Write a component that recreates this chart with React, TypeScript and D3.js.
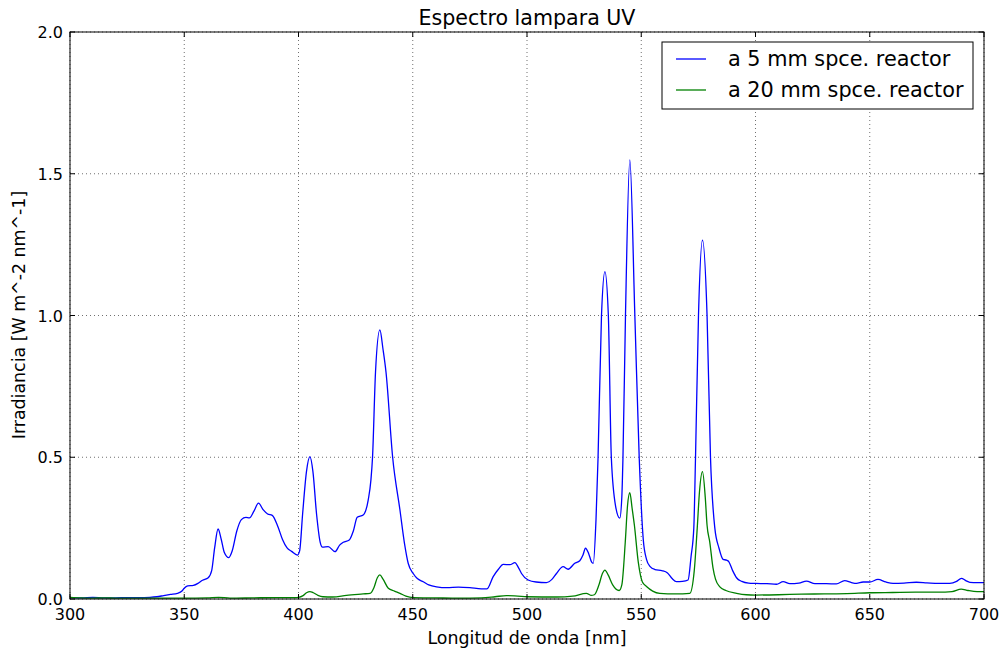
import React from "react";
import * as d3 from "d3";

const title = "Espectro lampara UV";
const xLabel = "Longitud de onda [nm]";
const yLabel = "Irradiancia [W m^-2 nm^-1]";
const xTicks = [300, 350, 400, 450, 500, 550, 600, 650, 700];
const yTicks = [0, 0.5, 1.0, 1.5, 2.0];
const seriesNames = ["a 5 mm spce. reactor", "a 20 mm spce. reactor"];
const seriesColors = ["#0000ff", "#008000"];

const blue: [number, number][] = [
  [300,0.005],[305,0.004],[310,0.006],[315,0.004],[320,0.004],[325,0.005],[330,0.005],[335,0.006],[338,0.008],[341,0.012],[344,0.016],[347,0.02],[349,0.028],[350,0.038],[351.5,0.046],[354,0.048],[356,0.055],[358,0.066],[360.5,0.075],[362,0.1],[363.3,0.18],[364.8,0.247],[366.2,0.21],[367.5,0.165],[369.5,0.146],[371,0.17],[373,0.24],[375,0.28],[377,0.288],[378.5,0.286],[380.5,0.31],[382.5,0.338],[384.5,0.315],[386.5,0.3],[388.5,0.295],[391,0.255],[393,0.21],[395,0.18],[397,0.168],[399.5,0.155],[400.5,0.17],[401.8,0.3],[403.5,0.45],[405,0.502],[406.3,0.45],[407.9,0.3],[409.5,0.2],[410.5,0.183],[413,0.185],[416,0.167],[418,0.19],[419.6,0.2],[422.2,0.208],[424,0.24],[425.7,0.288],[428.3,0.296],[430.5,0.349],[431.7,0.42],[432.4,0.5],[433.7,0.8],[435.6,0.949],[437,0.88],[438.3,0.8],[441.2,0.5],[444.4,0.314],[446.5,0.19],[448,0.126],[450.2,0.09],[452,0.072],[454.6,0.061],[457,0.05],[460.4,0.043],[465,0.04],[470,0.042],[475,0.04],[480,0.036],[482.5,0.036],[485.2,0.079],[487.5,0.105],[489.6,0.122],[492.5,0.121],[494.7,0.128],[496.3,0.11],[497.6,0.09],[500.5,0.067],[504,0.06],[508.5,0.058],[511,0.07],[512.9,0.09],[515.8,0.114],[518,0.105],[520.9,0.126],[523.1,0.135],[524.5,0.155],[525.6,0.179],[527,0.16],[528.3,0.13],[529,0.126],[530.2,0.28],[531.1,0.5],[532.6,1.0],[534.1,1.155],[535.6,1.0],[536.9,0.5],[538.8,0.326],[540.6,0.285],[541.5,0.36],[542,0.5],[543.1,1.0],[545,1.549],[547.2,1.0],[549.1,0.5],[550.9,0.208],[552.3,0.14],[553.8,0.115],[556,0.104],[559,0.1],[561.5,0.092],[563.5,0.072],[565.4,0.061],[568,0.062],[570.5,0.067],[571.8,0.15],[573,0.25],[573.75,0.5],[575.05,1.0],[576.8,1.266],[578.8,1.0],[580.3,0.5],[582.2,0.25],[584,0.18],[585.8,0.14],[587.3,0.137],[588.3,0.132],[590,0.1],[591.7,0.075],[594,0.062],[597,0.056],[600,0.055],[605,0.054],[609.2,0.052],[612.1,0.061],[615,0.054],[619,0.056],[622.3,0.063],[626,0.054],[631,0.054],[635.4,0.053],[639,0.065],[642,0.058],[644.2,0.055],[647.1,0.06],[650,0.06],[653.6,0.069],[657,0.06],[660.2,0.055],[665,0.056],[670.4,0.059],[675,0.057],[680,0.055],[685,0.055],[688,0.062],[690.1,0.073],[692,0.065],[693.8,0.059],[697,0.058],[700,0.058]
];

const green: [number, number][] = [
  [300,0.006],[305,0.004],[310,0.003],[315,0.004],[320,0.003],[330,0.003],[340,0.003],[350,0.003],[360,0.004],[365,0.006],[370,0.003],[380,0.004],[390,0.005],[398,0.005],[400,0.006],[402,0.012],[403.5,0.022],[405,0.026],[406.5,0.022],[408.5,0.013],[410.7,0.008],[415,0.007],[421,0.013],[428.3,0.018],[431.3,0.02],[433,0.04],[434.5,0.075],[435.6,0.085],[437,0.07],[439.3,0.038],[442,0.028],[444.4,0.02],[447,0.01],[450.2,0.005],[460,0.004],[470,0.003],[480,0.004],[486,0.008],[491,0.012],[496,0.01],[500,0.008],[513,0.007],[520,0.01],[526,0.02],[528,0.013],[529.5,0.015],[531.5,0.05],[533,0.09],[534.1,0.102],[535.5,0.085],[537.5,0.05],[540.3,0.03],[541.5,0.05],[543,0.2],[544,0.33],[545,0.375],[546,0.32],[547,0.26],[548.7,0.13],[550.5,0.06],[552.3,0.044],[555,0.028],[558.1,0.02],[565,0.018],[571.25,0.02],[573.2,0.1],[574.5,0.25],[575.5,0.38],[576.8,0.449],[578,0.36],[578.8,0.26],[580,0.2],[581.4,0.11],[582.5,0.07],[584.4,0.043],[587,0.03],[591.7,0.02],[596,0.015],[600,0.014],[610,0.015],[620,0.017],[630,0.018],[640,0.019],[650,0.022],[660,0.023],[670,0.024],[680,0.024],[686,0.026],[690,0.035],[693,0.03],[697,0.026],[700,0.026]
];

const W = 1001, H = 652;
const M = { left: 70, right: 984, top: 32, bottom: 599 };
const font = "'DejaVu Sans', sans-serif";

export default function App() {
  const x = d3.scaleLinear().domain([300, 700]).range([M.left, M.right]);
  const y = d3.scaleLinear().domain([0, 2]).range([M.bottom, M.top]);
  const line = d3.line<[number, number]>().x(d => x(d[0])).y(d => y(d[1])).curve(d3.curveMonotoneX);
  const series = [blue, green];
  const tl = 5;
  return (
    <svg width={W} height={H} style={{ position: "absolute", left: 0, top: 0 }} fontFamily={font}>
      <rect x={0} y={0} width={W} height={H} fill="#fff" />
      <text x={527} y={25} textAnchor="middle" fontSize={20.6}>{title}</text>
      {/* grid */}
      {xTicks.map(t => (
        <line key={"gx" + t} x1={x(t)} x2={x(t)} y1={M.top} y2={M.bottom} stroke="#000" strokeWidth={0.8} strokeDasharray="1,3" opacity={0.7} />
      ))}
      {yTicks.map(t => (
        <line key={"gy" + t} x1={M.left} x2={M.right} y1={y(t)} y2={y(t)} stroke="#000" strokeWidth={0.8} strokeDasharray="1,3" opacity={0.7} />
      ))}
      {series.map((s, i) => (
        <path key={i} d={line(s) || ""} fill="none" stroke={seriesColors[i]} strokeWidth={1.3} />
      ))}
      {/* frame */}
      <rect x={M.left} y={M.top} width={M.right - M.left} height={M.bottom - M.top} fill="none" stroke="#000" strokeWidth={1} />
      {xTicks.map(t => (
        <g key={"tx" + t}>
          <line x1={x(t)} x2={x(t)} y1={M.bottom} y2={M.bottom - tl} stroke="#000" />
          <line x1={x(t)} x2={x(t)} y1={M.top} y2={M.top + tl} stroke="#000" />
          <text x={x(t)} y={M.bottom + 21} textAnchor="middle" fontSize={16}>{t}</text>
        </g>
      ))}
      {yTicks.map(t => (
        <g key={"ty" + t}>
          <line x1={M.left} x2={M.left + tl} y1={y(t)} y2={y(t)} stroke="#000" />
          <line x1={M.right} x2={M.right - tl} y1={y(t)} y2={y(t)} stroke="#000" />
          <text x={M.left - 7} y={y(t) + 6} textAnchor="end" fontSize={16}>{t.toFixed(1)}</text>
        </g>
      ))}
      <text x={527} y={644} textAnchor="middle" fontSize={17.4}>{xLabel}</text>
      <text transform={`translate(25,${315}) rotate(-90)`} textAnchor="middle" fontSize={17.4}>{yLabel}</text>
      {/* legend */}
      <rect x={662} y={42} width={311} height={67} fill="#fff" stroke="#000" strokeWidth={1} />
      {seriesNames.map((n, i) => (
        <g key={n}>
          <line x1={676} x2={706} y1={59 + i * 31} y2={59 + i * 31} stroke={seriesColors[i]} strokeWidth={1.3} />
          <text x={728} y={66 + i * 31} fontSize={20.8}>{n}</text>
        </g>
      ))}
    </svg>
  );
}
